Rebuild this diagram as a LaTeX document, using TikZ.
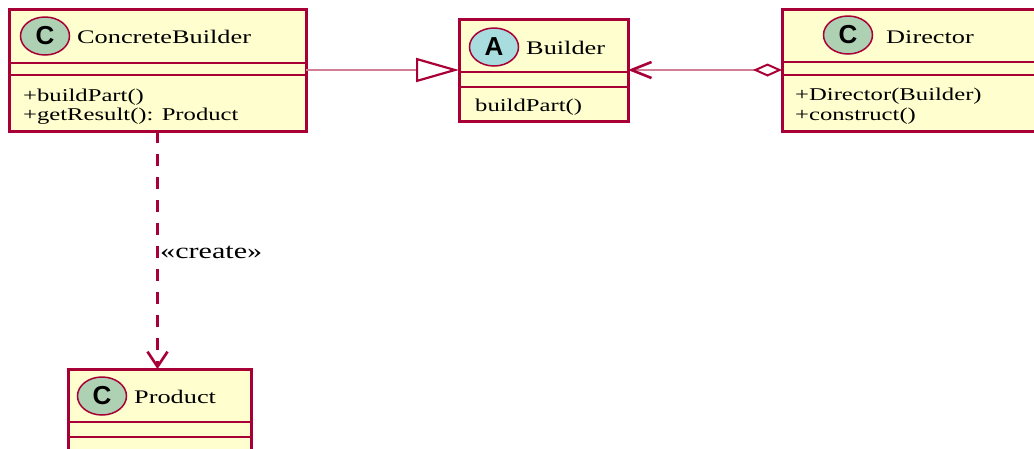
\documentclass[tikz,border=0pt]{standalone}
\usepackage{fontspec}
\setmainfont[FakeStretch=1.37]{Liberation Serif}
\newfontfamily\spotfont{Liberation Sans}
\usetikzlibrary{arrows.meta,shapes.geometric}

\definecolor{umlborder}{HTML}{A80036}
\definecolor{umlfill}{HTML}{FEFECE}
\definecolor{spotC}{HTML}{ADD1B2}
\definecolor{spotA}{HTML}{A9DCDF}
\definecolor{umlline}{HTML}{D27F96}

\begin{document}
\begin{tikzpicture}[x=1pt,y=-1pt,
  classbox/.style={draw=umlborder, fill=umlfill, line width=3pt,
                   inner sep=0pt, outer sep=0pt},
  sepline/.style={draw=umlborder, line width=2.8pt},
  spot/.style={ellipse, draw=umlborder, line width=1.5pt, inner sep=0pt,
               minimum width=49pt, minimum height=38pt,
               font=\spotfont\bfseries\fontsize{26}{26}\selectfont},
  classname/.style={anchor=base west, inner sep=0pt,
                    font=\fontsize{19.2}{22}\selectfont},
  member/.style={anchor=base west, inner sep=0pt,
                 font=\fontsize{18}{21}\selectfont},
  gen/.style={draw=umlline, line width=2.4pt,
              -{Triangle[open, length=43pt, width=24pt, color=umlborder, line width=2.2pt]}},
  aggr/.style={draw=umlline, line width=2.4pt,
               {Diamond[open, length=29pt, width=13pt, color=umlborder, line width=2pt]}-{Straight Barb[length=20pt, width=16pt, color=umlborder, line width=2.6pt]}},
  dep/.style={draw=umlborder, line width=2.4pt, dash pattern=on 12pt off 11pt,
              -{Straight Barb[length=15pt, width=20pt, line width=2.6pt]}},
]
\useasboundingbox (0,0) rectangle (1034,448);
\clip (0,0) rectangle (1034,448);

% ConcreteBuilder
\node[classbox, minimum width=297pt, minimum height=122pt] (cb) at (157.5,70) {};
\draw[sepline] (9,63) -- (306,63);
\draw[sepline] (9,75) -- (306,75);
\node[spot, fill=spotC] (cbspot) at (45,36) {C};
\node[classname] (cbname) at (77,43) {ConcreteBuilder};
\node[member] (cbm1) at (23,101) {+buildPart()};
\node[member] (cbm2) at (23,120) {+getResult(): Product};

% Builder (abstract)
\node[classbox, minimum width=169pt, minimum height=102pt] (bld) at (543.5,70) {};
\draw[sepline] (459,72) -- (628,72);
\draw[sepline] (459,87) -- (628,87);
\node[spot, fill=spotA] (bldspot) at (494,47) {A};
\node[classname] (bldname) at (526,54) {Builder};
\node[member] (bldm1) at (475,111) {buildPart()};

% Director
\node[classbox, minimum width=280pt, minimum height=122pt] (dir) at (922,70) {};
\draw[sepline] (782,62) -- (1062,62);
\draw[sepline] (782,75) -- (1062,75);
\node[spot, fill=spotC] (dirspot) at (848,35) {C};
\node[classname] (dirname) at (886,43) {Director};
\node[member] (dirm1) at (795,100) {+Director(Builder)};
\node[member] (dirm2) at (795,120) {+construct()};

% Product
\node[classbox, minimum width=183pt, minimum height=110pt] (prod) at (159.5,424) {};
\draw[sepline] (68,422) -- (251,422);
\draw[sepline] (68,437) -- (251,437);
\node[spot, fill=spotC] (prodspot) at (102,396) {C};
\node[classname] (prodname) at (134,403) {Product};

% Relations
\draw[gen] (cb.east) -- (bld.west);
\draw[aggr] (dir.west) -- (bld.east);
\draw[dep] (cb.south) -- (cb.south |- prod.north);
\node[member, font=\fontsize{22}{24}\selectfont] (createlbl) at (160,258) {«create»};
\end{tikzpicture}
\end{document}
